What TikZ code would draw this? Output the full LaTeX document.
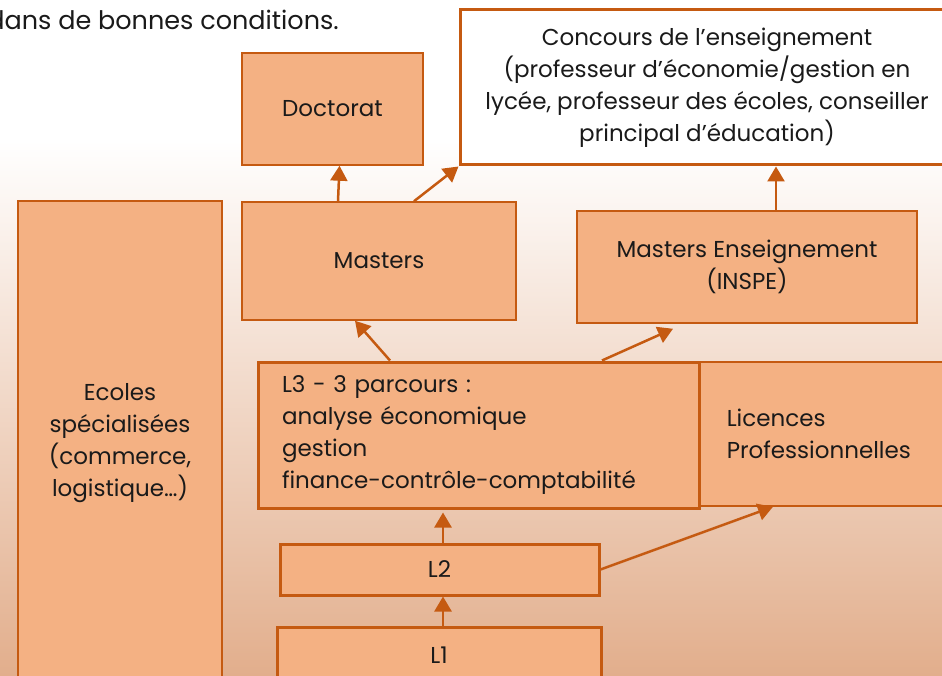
\documentclass[tikz,border=0pt]{standalone}
\usepackage{fontspec}
\setmainfont{Poppins}
\usetikzlibrary{arrows.meta,calc}
\definecolor{peche}{HTML}{F4B183}
\definecolor{brique}{HTML}{C55A11}
\definecolor{fondbas}{HTML}{E2AE8C}
\definecolor{encre}{HTML}{1A1A1A}

\begin{document}
\begin{tikzpicture}[x=1pt,y=-1pt,
  font=\fontsize{23}{32}\selectfont,
  bloc/.style={draw=brique, fill=peche, line width=1.5pt, text=encre, align=center, inner sep=0pt},
  epais/.style={line width=3pt},
  fleche/.style={draw=brique, line width=2.5pt, -{Triangle[length=15pt,width=17pt]}}]

  % fond degrade
  \useasboundingbox (0,0) rectangle (942,676);
  \fill[white] (0,0) rectangle (942,676);
  \shade[top color=white, bottom color=fondbas] (0,140) rectangle (942,676);

  \node[anchor=base east, text=encre, inner sep=0pt, font=\fontsize{25.5}{32}\selectfont] (intro) at (339,30) {dans de bonnes conditions.};

  % blocs
  \node[bloc, minimum width=181pt, minimum height=112pt] (doct) at (332.5,109) {Doctorat};
  \node[bloc, epais, fill=white, minimum width=494pt, minimum height=155pt] (conc) at (707,87.5)
    {Concours de l’enseignement\\(professeur d’économie/gestion en\\lycée, professeur des écoles, conseiller\\principal d’éducation)};
  \node[bloc, minimum width=274pt, minimum height=118pt] (mast) at (379,261) {Masters};
  \node[bloc, minimum width=340pt, minimum height=112pt] (mens) at (747,267) {Masters Enseignement\\(INSPE)};
  \node[bloc, minimum width=204pt, minimum height=484pt] (ecol) at (120,443)
    {Ecoles\\spécialisées\\(commerce,\\logistique…)};
  \node[bloc, anchor=west, align=left, inner xsep=27pt, text width=234pt, minimum height=144pt] (lpro) at (699,434)
    {Licences\\Professionnelles};
  \node[bloc, epais, align=left, inner xsep=24pt, text width=393pt, minimum height=146pt] (l3) at (478.5,435)
    {L3 - 3 parcours :\\analyse économique\\gestion\\finance-contrôle-comptabilité};
  \node[bloc, epais, minimum width=319pt, minimum height=51pt] (l2) at (439.5,569.5) {L2};
  \node[bloc, epais, minimum width=324pt, minimum height=56pt] (l1) at (439,655) {L1};

  % fleches
  \draw[fleche] ($(mast.north)+(-41,0)$) -- ($(doct.south)+(7,0)$);
  \draw[fleche] ($(mast.north)+(35,0)$) -- (conc.south west);
  \draw[fleche] ($(mens.north)+(29,0)$) -- ($(conc.south)+(69,0)$);
  \draw[fleche] ($(l3.north)+(-88.5,0)$) -- ($(mast.south)+(-24,0)$);
  \draw[fleche] ($(l3.north)+(123.5,0)$) -- ($(mens.south)+(-74,5)$);
  \draw[fleche] ($(l2.north)+(3.5,0)$) -- ($(l3.south)+(-35.5,3)$);
  \draw[fleche] ($(l1.north)+(4,0)$) -- ($(l2.south)+(3.5,0)$);
  \draw[fleche] (l2.east) -- ($(lpro.south west)+(74,0)$);

\end{tikzpicture}
\end{document}
